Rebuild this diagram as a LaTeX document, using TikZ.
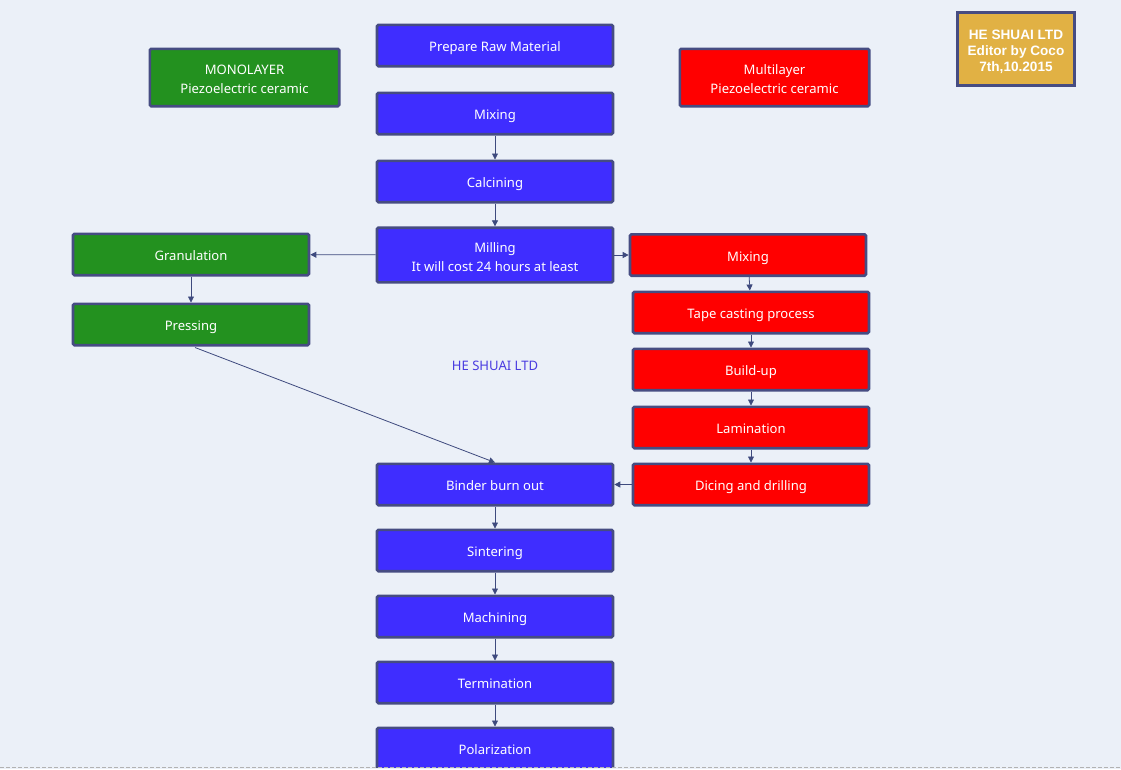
\documentclass[tikz,border=0pt]{standalone}
\usepackage{fontspec}
\setmainfont{Noto Sans}
\newfontfamily\arialb{Liberation Sans}
\usetikzlibrary{arrows.meta}
\definecolor{bgc}{HTML}{EBF0F8}
\definecolor{bluef}{HTML}{3F2DFF}
\definecolor{greenf}{HTML}{23911F}
\definecolor{redf}{HTML}{FF0000}
\definecolor{yellowf}{HTML}{E1B144}
\definecolor{edgec}{HTML}{464C82}
\definecolor{linec}{HTML}{3E4A7E}
\definecolor{txtblue}{HTML}{4A3CE0}
\newcommand{\toppad}[1]{\rule{0pt}{#1}}
\tikzset{
  px/.style={x=0.75pt,y=-0.75pt},
  box/.style={draw=edgec,line width=2pt,rounded corners=1pt,minimum width=177pt,minimum height=31pt,text=white,font=\fontsize{9.8}{14.25}\selectfont,align=center,inner sep=0pt},
  onel/.style={text height=9pt,text depth=0pt},
  bluebox/.style={box,onel,fill=bluef},
  bluebox2/.style={box,fill=bluef},
  greenbox/.style={box,onel,fill=greenf},
  greenbox2/.style={box,fill=greenf},
  redbox/.style={box,onel,fill=redf},
  redbox2/.style={box,fill=redf},
  conn/.style={draw=linec,line width=0.6pt,-{Triangle[length=4.5pt,width=4.5pt]}}
}
\begin{document}
\begin{tikzpicture}[px]
\useasboundingbox (0,0) rectangle (1121,769);
\fill[bgc] (0,0) rectangle (1121,769);
\begin{scope}
\clip (0,0) rectangle (1121,767);
% central column
\node[bluebox] (prep) at (495,45.5) {Prepare Raw Material};
\node[bluebox] (mix) at (495,113.5) {Mixing};
\node[bluebox] (calc) at (495,181.5) {Calcining};
\node[bluebox2,minimum height=41pt,text depth=2pt] (mill) at (495,255) {\toppad{12pt}Milling\\It will cost 24 hours at least};
\node[bluebox] (bind) at (495,484.5) {Binder burn out};
\node[bluebox] (sint) at (495,550.5) {Sintering};
\node[bluebox] (mach) at (495,616.5) {Machining};
\node[bluebox] (term) at (495,682.5) {Termination};
\node[bluebox] (pol) at (495,748.5) {Polarization};
% headers
\node[greenbox2,minimum width=142pt,minimum height=43pt,text depth=2pt] (mono) at (244.5,77.5) {\toppad{12pt}MONOLAYER\\Piezoelectric ceramic};
\node[redbox2,minimum width=142pt,minimum height=43pt,text depth=2pt] (multi) at (774.5,77.5) {\toppad{12pt}Multilayer\\Piezoelectric ceramic};
% green branch
\node[greenbox] (gran) at (191,254.5) {Granulation};
\node[greenbox] (press) at (191,324.5) {Pressing};
% red branch
\node[redbox] (rmix) at (748,255) {Mixing};
\node[redbox] (tape) at (751,312.5) {Tape casting process};
\node[redbox] (build) at (751,369.5) {Build-up};
\node[redbox] (lam) at (751,427.5) {Lamination};
\node[redbox] (dice) at (751,484.5) {Dicing and drilling};
\end{scope}
% company box
\node[draw=edgec,line width=2pt,fill=yellowf,minimum width=88pt,minimum height=55pt,text=white,font=\arialb\bfseries\fontsize{10.2}{12}\selectfont,align=center,inner sep=0pt] (co) at (1016,49) {\toppad{11.8pt}HE SHUAI LTD\\Editor by Coco\\7th,10.2015};
\node[text=txtblue,font=\fontsize{9.8}{12}\selectfont,text height=9pt,text depth=0pt,inner sep=0pt] (lbl) at (495,364) {HE SHUAI LTD};
% connectors
\draw[conn] (mix) -- (calc);
\draw[conn] (calc) -- (mill);
\draw[conn] (mill) -- (gran);
\draw[conn] (mill) -- (rmix);
\draw[conn] (gran) -- (press);
\draw[conn] (press.south) ++(4,1) coordinate (ps) (ps) -- (bind.north);
\draw[conn] (rmix) -- (tape);
\draw[conn] (tape) -- (build);
\draw[conn] (build) -- (lam);
\draw[conn] (lam) -- (dice);
\draw[conn] (dice) -- (bind);
\draw[conn] (bind) -- (sint);
\draw[conn] (sint) -- (mach);
\draw[conn] (mach) -- (term);
\draw[conn] (term) -- (pol);
% bottom dashed line
\coordinate (dl) at (0,767.5);
\coordinate (dr) at (1121,767.5);
\draw[gray!60,line width=0.6pt,dash pattern=on 3pt off 1.5pt] (dl) -- (dr);
\end{tikzpicture}
\end{document}
